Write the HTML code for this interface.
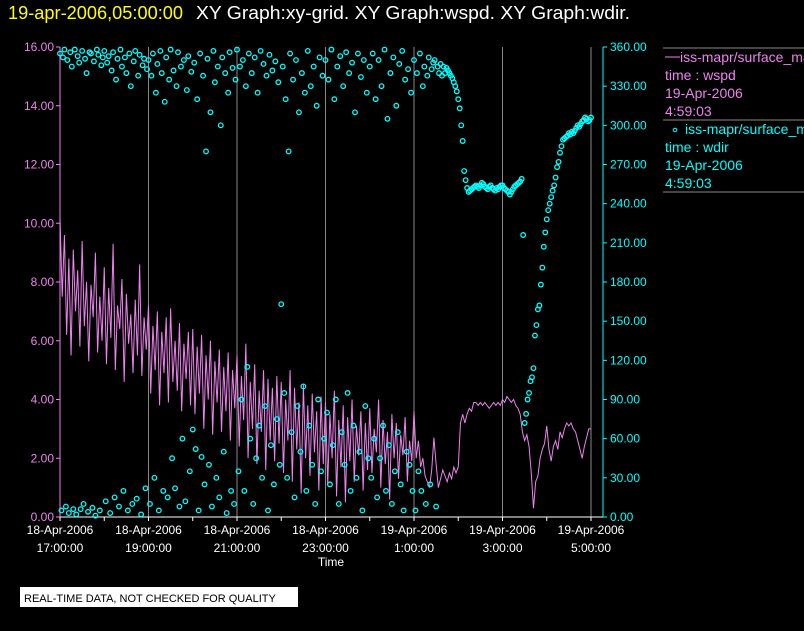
<!DOCTYPE html>
<html><head><meta charset="utf-8"><style>
body{margin:0;background:#000;width:804px;height:626px;overflow:hidden}
svg text{font-family:"Liberation Sans",sans-serif}
</style></head><body>
<svg id="c" width="804" height="626" xmlns="http://www.w3.org/2000/svg">
<text x="8" y="19" font-size="18" fill="#ffff00" textLength="175" lengthAdjust="spacingAndGlyphs">19-apr-2006,05:00:00</text>
<text x="196" y="19" font-size="18" fill="#fff" textLength="434" lengthAdjust="spacingAndGlyphs">XY Graph:xy-grid.  XY Graph:wspd.  XY Graph:wdir.</text>
<g id="grid"></g><g id="axes"></g><g id="wspd"></g><g id="wdir"></g>
<g>
<line x1="663" y1="48" x2="804" y2="48" stroke="#888"/>
<line x1="665" y1="57" x2="680" y2="57" stroke="#ee82ee"/>
<text x="680" y="62" font-size="14" fill="#ee82ee">iss-mapr/surface_mapr</text>
<text x="665" y="80" font-size="14" fill="#ee82ee">time : wspd</text>
<text x="665" y="98" font-size="14" fill="#ee82ee">19-Apr-2006</text>
<text x="665" y="116" font-size="14" fill="#ee82ee">4:59:03</text>
<line x1="663" y1="120" x2="804" y2="120" stroke="#888"/>
<circle cx="675" cy="130" r="1.8" fill="none" stroke="#0ff"/>
<text x="685" y="134" font-size="14" fill="#0ff">iss-mapr/surface_mapr</text>
<text x="665" y="152" font-size="14" fill="#0ff">time : wdir</text>
<text x="665" y="170" font-size="14" fill="#0ff">19-Apr-2006</text>
<text x="665" y="188" font-size="14" fill="#0ff">4:59:03</text>
<line x1="663" y1="192" x2="804" y2="192" stroke="#888"/>
</g>
<rect x="20" y="587" width="278" height="20" fill="#fff"/>
<text x="24" y="602" font-size="11" fill="#000">REAL-TIME DATA, NOT CHECKED FOR QUALITY</text>
</svg>
<script>
const leftTicks=[0,2,4,6,8,10,12,14,16];
const rightTicks=[0,30,60,90,120,150,180,210,240,270,300,330,360];
const xTickDates=["18-Apr-2006","18-Apr-2006","18-Apr-2006","18-Apr-2006","19-Apr-2006","19-Apr-2006","19-Apr-2006"];
const xTickTimes=["17:00:00","19:00:00","21:00:00","23:00:00","1:00:00","3:00:00","5:00:00"];
const xTickMinutes=[0,120,240,360,480,600,720];
const wspdStep=3;
const wspd=[10.2,7.5,9.6,6.2,8.8,5.5,9.1,7.0,8.4,5.8,9.4,6.5,8.0,5.3,7.9,6.8,9.0,5.6,7.5,6.0,
8.5,5.2,7.8,6.1,9.3,5.0,7.2,6.4,8.1,4.6,7.6,5.9,6.9,4.9,7.4,5.5,8.6,4.8,6.8,5.7,
7.2,4.2,6.5,5.0,7.0,3.8,6.3,4.9,6.8,3.9,7.1,4.6,6.0,4.3,6.6,3.6,5.9,4.7,6.3,3.8,
6.4,3.5,5.8,4.2,6.2,3.0,5.5,4.0,6.0,2.8,5.3,3.9,5.7,2.9,5.1,3.6,5.6,2.6,5.0,3.7,
5.5,2.4,4.8,3.3,5.9,2.0,4.6,3.0,5.2,1.8,4.3,2.9,5.0,1.6,4.7,2.6,4.4,1.9,4.8,2.5,
4.6,1.5,4.0,2.6,5.0,1.2,4.4,2.3,3.9,0.8,4.5,2.0,3.8,1.4,4.2,2.2,3.6,0.9,4.1,1.8,
3.9,1.1,3.5,2.0,4.3,0.7,3.3,1.7,3.8,0.5,3.4,1.9,4.0,1.2,3.1,2.1,3.6,0.9,3.2,1.6,
3.7,1.5,3.0,2.2,4.0,1.0,3.3,1.8,2.9,0.6,3.5,2.0,3.2,1.3,2.8,2.1,3.4,1.2,2.6,1.9,
3.6,2.0,2.6,1.7,2.0,1.4,1.2,1.0,1.6,2.7,1.8,1.0,1.3,1.6,1.4,1.2,1.5,1.3,1.7,1.5,
1.7,3.2,3.5,3.2,3.5,3.7,3.6,3.9,3.9,3.8,3.9,3.8,3.9,3.8,3.7,3.8,3.9,3.8,3.9,3.8,
4.0,3.9,4.1,4.0,3.9,4.0,3.8,3.7,3.5,2.9,2.6,2.8,2.4,1.5,0.3,1.2,1.4,2.0,2.3,2.5,
3.1,2.3,1.9,2.4,2.6,2.3,2.9,2.7,3.0,3.2,3.1,3.2,3.0,2.9,2.6,2.3,2.0,2.4,2.7,3.0,3.0];
const wdirStep=2;
const wdir=[355,5,352,358,8,350,3,356,345,6,358,2,353,348,6,357,10,351,340,4,356,355,7,349,1,358,354,5,346,352,
357,12,348,353,3,342,356,15,335,351,8,358,345,20,352,340,5,355,330,10,349,357,14,338,354,2,346,351,22,343,
350,10,338,355,30,325,347,5,357,340,20,318,352,15,335,358,45,342,22,330,356,8,345,60,350,12,327,353,35,341,
67,348,52,320,5,355,46,338,25,280,351,40,310,8,357,333,30,345,15,300,352,50,340,3,325,356,20,344,10,335,
358,35,345,90,350,20,330,115,355,60,340,10,352,45,325,70,357,30,347,85,338,5,354,55,342,25,349,75,333,40,
163,345,95,320,30,280,355,65,335,15,350,85,310,50,340,100,325,20,357,70,330,40,345,10,315,90,352,35,338,60,
350,80,335,25,358,55,320,90,345,10,353,65,330,40,356,95,340,20,348,70,310,30,355,50,337,5,350,85,325,45,
345,30,355,60,320,15,350,45,330,70,358,20,305,55,340,10,352,35,315,65,347,25,357,5,335,50,343,40,325,20,
350,5,340,35,355,20,330,345,10,338,352,25,343,348,350,8,345,340,347,338,345,340,344,342,340,338,336,333,330,326,
320,313,300,288,265,258,252,249,250,251,252,253,254,253,252,254,256,255,253,252,251,253,254,252,251,250,252,251,253,254,
254,252,251,250,249,247,249,251,253,254,255,256,257,259,216,72,79,90,95,104,107,114,139,147,159,162,178,191,207,218,
228,235,240,245,250,254,260,268,272,279,284,289,290,291,292,294,293,295,294,296,298,300,299,301,303,304,306,305,303,304,306];

const X0=60,X1=591,YT=47,YB=517,XR=603;
const xs=t=>X0+t*(X1-X0)/720;
const yl=v=>YB-v*(YB-YT)/16;
const yr=v=>YB-v*(YB-YT)/360;
const NS="http://www.w3.org/2000/svg";
function mk(p,tag,a){const e=document.createElementNS(NS,tag);for(const k in a)e.setAttribute(k,a[k]);p.appendChild(e);return e;}
const grid=document.getElementById('grid'),axes=document.getElementById('axes');
xTickMinutes.forEach((t,i)=>{
  if(i>0){const g=mk(grid,'line',{x1:xs(t),y1:YT,x2:xs(t),y2:YB,stroke:'#888'});
  
  }
  const a=mk(axes,'text',{x:xs(t),y:534,'font-size':12,fill:'#fff','text-anchor':'middle'});a.textContent=xTickDates[i];
  
  
  const b=mk(axes,'text',{x:xs(t),y:552,'font-size':12,fill:'#fff','text-anchor':'middle'});b.textContent=xTickTimes[i];
  
  
});
for(let h=0;h<=12;h++)mk(axes,'line',{x1:xs(h*60),y1:YB,x2:xs(h*60),y2:YB+4,stroke:'#fff'});
const xa=mk(axes,'line',{x1:X0,y1:YB,x2:XR,y2:YB,stroke:'#fff'});


const xt=mk(axes,'text',{x:331,y:566,'font-size':12,fill:'#fff','text-anchor':'middle'});xt.textContent='Time';


const la=mk(axes,'line',{x1:X0,y1:YT,x2:X0,y2:YB,stroke:'#ee82ee'});


leftTicks.forEach(v=>{mk(axes,'line',{x1:X0-4,y1:yl(v),x2:X0,y2:yl(v),stroke:'#ee82ee'});
  const t=mk(axes,'text',{x:X0-6,y:yl(v)+4,'font-size':12,fill:'#ee82ee','text-anchor':'end'});t.textContent=v.toFixed(2);
  
  });
const ra=mk(axes,'line',{x1:XR,y1:YT,x2:XR,y2:YB,stroke:'#0ff'});


rightTicks.forEach(v=>{mk(axes,'line',{x1:XR,y1:yr(v),x2:XR+4,y2:yr(v),stroke:'#0ff'});
  const t=mk(axes,'text',{x:XR+7,y:yr(v)+4,'font-size':12,fill:'#0ff'});t.textContent=v.toFixed(2);
  
  });
const pl=mk(document.getElementById('wspd'),'polyline',{points:wspd.map((v,i)=>xs(i*wspdStep)+','+yl(v)).join(' '),fill:'none',stroke:'#ee82ee','stroke-width':1});


const wd=document.getElementById('wdir');
wdir.forEach((v,i)=>{const c=mk(wd,'circle',{cx:xs(i*wdirStep),cy:yr(v),r:2.3,fill:'none',stroke:'#0ff','stroke-width':1.3});
  
  });
</script>
</body></html>
